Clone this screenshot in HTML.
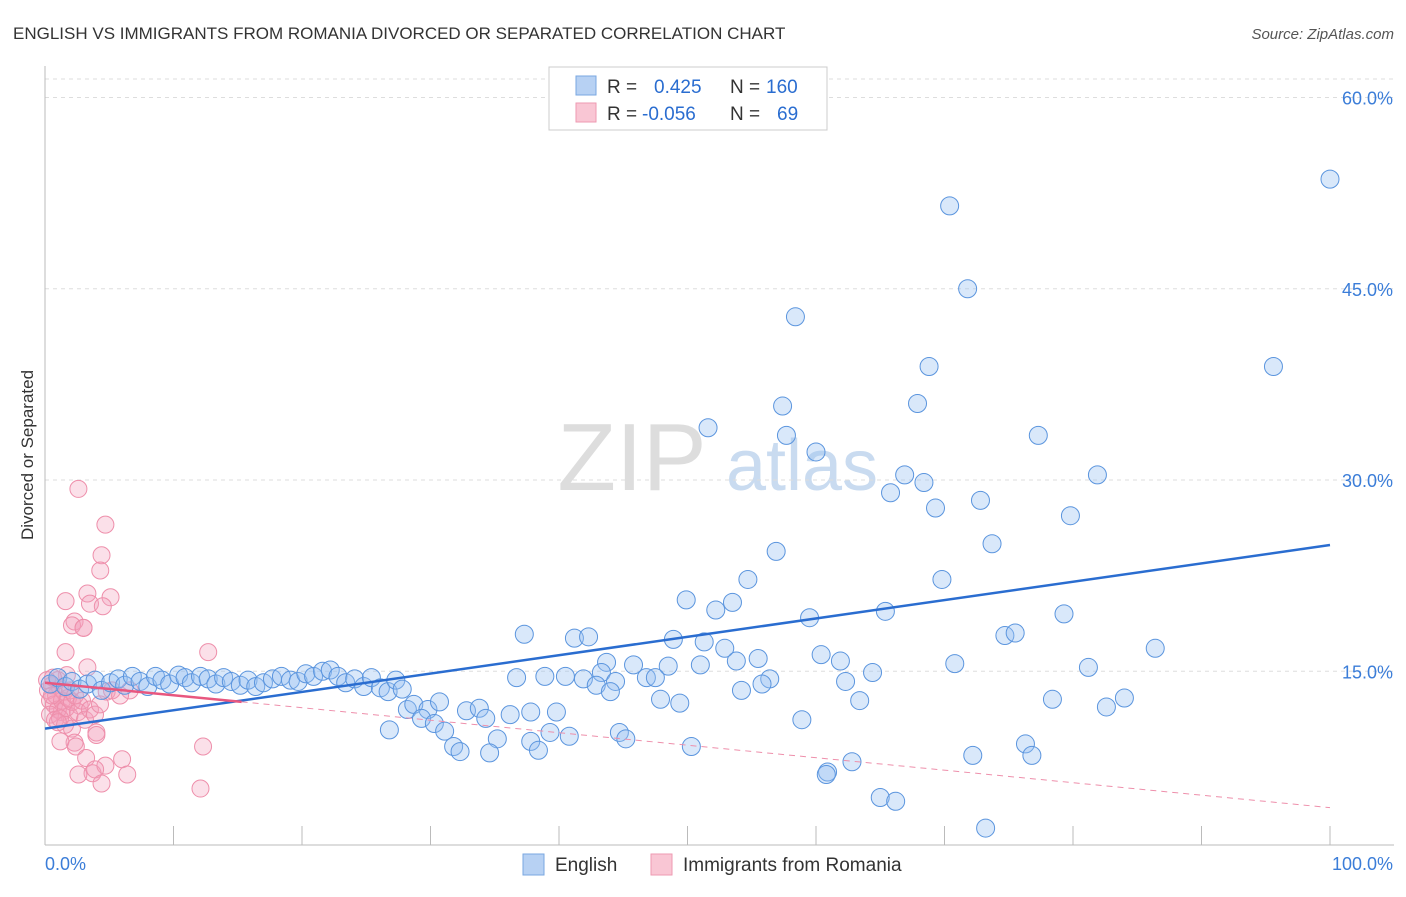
<!DOCTYPE html>
<html><head><meta charset="utf-8"><style>
body{margin:0;background:#fff;font-family:"Liberation Sans",sans-serif}
svg text{font-family:"Liberation Sans",sans-serif}
</style></head><body>
<svg width="1406" height="892" viewBox="0 0 1406 892">
<text x="13" y="39" font-size="17" fill="#333">ENGLISH VS IMMIGRANTS FROM ROMANIA DIVORCED OR SEPARATED CORRELATION CHART</text>
<text x="1394" y="39" font-size="15" fill="#555" font-style="italic" text-anchor="end">Source: ZipAtlas.com</text>
<text x="33" y="455" font-size="17" fill="#333" text-anchor="middle" transform="rotate(-90 33 455)">Divorced or Separated</text>
<g>
<text x="632" y="490" font-size="96" fill="#ddd" font-family="Liberation Serif" text-anchor="middle">ZIP</text>
<text x="802" y="490" font-size="72" fill="#c9dbf0" text-anchor="middle">atlas</text>
</g>
<g id="grid"></g><g id="axes"></g><g id="pts"></g><g id="trend"></g>
<g>
<rect x="549" y="67" width="278" height="63" fill="#fff" stroke="#ccc"/>
<rect x="576" y="76" width="20" height="19" fill="#b7d1f3" stroke="#7aa7e0"/>
<rect x="576" y="103" width="20" height="19" fill="#f9c6d4" stroke="#ee9ab2"/>
<text x="607" y="93" font-size="19" fill="#333">R = <tspan fill="#2a6dd0" x="654">0.425</tspan><tspan fill="#333" x="730">N = </tspan><tspan fill="#2a6dd0" x="766">160</tspan></text>
<text x="607" y="120" font-size="19" fill="#333">R = <tspan fill="#2a6dd0" x="642">-0.056</tspan><tspan fill="#333" x="730">N = </tspan><tspan fill="#2a6dd0" x="777">69</tspan></text>
</g>
<g>
<rect x="523" y="854" width="21" height="21" fill="#b7d1f3" stroke="#7aa7e0"/>
<text x="555" y="871" font-size="19" fill="#333">English</text>
<rect x="651" y="854" width="21" height="21" fill="#f9c6d4" stroke="#ee9ab2"/>
<text x="683" y="871" font-size="19" fill="#333">Immigrants from Romania</text>
</g>
</svg>
<script>
const yTicks=[15,30,45,60];
const yTickLabels=["15.0%","30.0%","45.0%","60.0%"];
const xTickLabels=["0.0%","100.0%"];
const englishX=[100,70.4,71.8,58.4,68.8,95.6,67.9,57.4,51.6,77.3,57.7,60,66.9,81.9,65.8,68.4,72.8,69.3,79.8,73.7,56.9,54.7,69.8,49.9,53.5,52.2,59.5,65.4,79.3,37.3,41.2,42.3,48.9,51.3,74.7,75.5,86.4,52.9,60.4,61.9,55.5,53.8,70.8,81.2,43.7,45.8,48.5,51,64.4,36.7,38.9,40.5,41.9,43.3,44.4,46.8,47.5,62.3,56.4,55.8,42.9,54.2,44,47.9,49.4,63.4,78.4,84,82.6,58.9,37.8,39.8,32.8,33.8,36.2,34.3,28.2,28.7,29.8,29.3,30.3,31.1,30.7,26.8,35.2,39.3,40.8,44.7,45.2,50.3,37.8,38.4,31.8,32.3,34.6,60.9,60.8,62.8,72.2,76.3,76.8,65,66.2,73.2,
0.4,1,1.6,2.1,2.7,3.3,3.9,4.4,5.1,5.7,6.2,6.8,7.4,8,8.6,9.1,9.7,10.4,10.9,11.4,12.1,12.7,13.3,13.9,14.5,15.2,15.8,16.4,17,17.7,18.4,19.1,19.7,20.3,20.9,21.6,22.2,22.8,23.4,24.1,24.8,25.4,26.1,26.7,27.3,27.8];
const englishY=[53.6,51.5,45,42.8,38.9,38.9,36,35.8,34.1,33.5,33.5,32.2,30.4,30.4,29,29.8,28.4,27.8,27.2,25,24.4,22.2,22.2,20.6,20.4,19.8,19.2,19.7,19.5,17.9,17.6,17.7,17.5,17.3,17.8,18,16.8,16.8,16.3,15.8,16,15.8,15.6,15.3,15.7,15.5,15.4,15.5,14.9,14.5,14.6,14.6,14.4,14.9,14.2,14.5,14.5,14.2,14.4,14,13.9,13.5,13.4,12.8,12.5,12.7,12.8,12.9,12.2,11.2,11.8,11.8,11.9,12.1,11.6,11.3,12,12.4,12,11.3,10.9,10.3,12.6,10.4,9.7,10.2,9.9,10.2,9.7,9.1,9.5,8.8,9.1,8.7,8.6,7.1,6.9,7.9,8.4,9.3,8.4,5.1,4.8,2.7,
14,14.5,13.8,14.2,13.6,14,14.3,13.5,14.1,14.4,13.9,14.6,14.2,13.8,14.6,14.3,14,14.7,14.5,14.1,14.6,14.4,14,14.5,14.2,13.9,14.3,13.8,14.1,14.4,14.6,14.3,14.2,14.8,14.6,15,15.1,14.6,14.1,14.4,13.8,14.5,13.7,13.4,14.3,13.6];
const romaniaX=[2.6,4.7,4.4,4.3,3.3,5.1,1.6,3.5,4.5,2.3,2.1,3,3,12.7,1.6,3.3,1.7,1,4.8,6.6,2.7,1.3,1.9,2.1,2.3,4,4,1.2,2.4,12.3,3.2,6,3.7,4.7,2.6,3.9,6.4,4.4,12.1,
0.23,0.39,0.54,0.7,0.86,1,1.17,1.32,1.48,1.63,1.79,1.95,0.39,0.78,1.17,0.16,0.62,2.1,2.33,2.57,2.88,3.11,3.5,3.89,4.28,5.21,5.84,1.56,1,0.54];
const romaniaY=[29.3,26.5,24.1,22.9,21.1,20.8,20.5,20.3,20.1,18.9,18.6,18.4,18.4,16.5,16.5,15.3,14.7,14.3,13.4,13.5,12.3,11.8,11.5,10.5,9.4,10.2,10,9.5,9.1,9.1,8.2,8.1,7,7.6,6.9,7.3,6.9,6.2,5.8,
13.5,12.7,13.9,12.4,13.1,12,13.7,12.7,13.4,12.1,12.9,13.5,11.6,11.2,11.3,14.3,14.5,12.6,13.1,11.8,12.7,11.2,12,11.6,12.4,13.5,13.1,10.8,11,13.1];
const englishTrend=[10.5,24.9];
const romaniaTrend=[14.1,4.3];
const romaniaSolidEnd=15.3;

const NS="http://www.w3.org/2000/svg";
const X0=45,X1=1330,Y0=862.5,YS=12.75;
const sx=v=>X0+v*(X1-X0)/100, sy=v=>Y0-v*YS;
function mk(tag,attrs,parent){const e=document.createElementNS(NS,tag);for(const k in attrs)e.setAttribute(k,attrs[k]);parent.appendChild(e);return e;}
const grid=document.getElementById('grid'),axes=document.getElementById('axes');
mk('line',{x1:45,y1:79,x2:1394,y2:79,stroke:'#ddd','stroke-dasharray':'4 4'},grid);
yTicks.forEach((t,i)=>{
  const l=mk('line',{x1:45,y1:sy(t),x2:1394,y2:sy(t),stroke:'#ddd','stroke-dasharray':'4 4'},grid);
  
  
  const tx=mk('text',{x:1393,y:sy(t)+7,'font-size':18,fill:'#3b7dd8','text-anchor':'end'},axes);
  tx.textContent=yTickLabels[i];
  
  
});
mk('line',{x1:45,y1:66,x2:45,y2:845,stroke:'#bbb'},axes);
mk('line',{x1:45,y1:845,x2:1394,y2:845,stroke:'#bbb'},axes);
for(let i=0;i<=10;i++){mk('line',{x1:sx(i*10),y1:826,x2:sx(i*10),y2:845,stroke:'#bbb'},axes);}
const xl0=mk('text',{x:45,y:870,'font-size':18,fill:'#3b7dd8'},axes);xl0.textContent=xTickLabels[0];


const xl1=mk('text',{x:1393,y:870,'font-size':18,fill:'#3b7dd8','text-anchor':'end'},axes);xl1.textContent=xTickLabels[1];


const pts=document.getElementById('pts');
romaniaX.forEach((x,i)=>{const c=mk('circle',{cx:sx(x),cy:sy(romaniaY[i]),r:8.5,fill:'rgba(244,160,186,0.32)',stroke:'#ee8fab','stroke-width':1},pts);

});
englishX.forEach((x,i)=>{const c=mk('circle',{cx:sx(x),cy:sy(englishY[i]),r:9,fill:'rgba(150,190,240,0.36)',stroke:'#5b95de','stroke-width':1},pts);

});
const tr=document.getElementById('trend');
const bl=mk('line',{x1:sx(0),y1:sy(englishTrend[0]),x2:sx(100),y2:sy(englishTrend[1]),stroke:'#2a6dd0','stroke-width':2.5},tr);


const rAt=x=>romaniaTrend[0]+(romaniaTrend[1]-romaniaTrend[0])*x/100;
const pl=mk('line',{x1:sx(0),y1:sy(rAt(0)),x2:sx(romaniaSolidEnd),y2:sy(rAt(romaniaSolidEnd)),stroke:'#e8577f','stroke-width':2.5},tr);


const pd=mk('line',{x1:sx(romaniaSolidEnd),y1:sy(rAt(romaniaSolidEnd)),x2:sx(100),y2:sy(rAt(100)),stroke:'#ee8fab','stroke-width':1,'stroke-dasharray':'6 5'},tr);


</script>
</body></html>
